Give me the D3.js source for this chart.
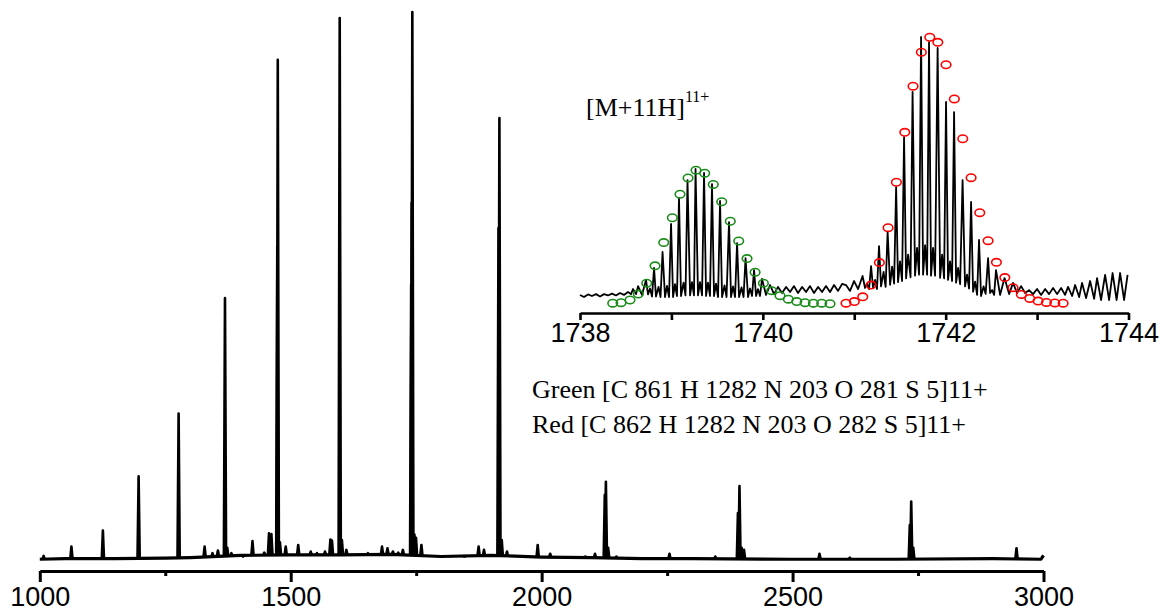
<!DOCTYPE html>
<html lang="en">
<head>
<meta charset="UTF-8">
<title>ESI spectrum with isotope inset</title>
<script src="https://cdn.jsdelivr.net/npm/d3@7"></script>
<style>
  * { margin: 0; padding: 0; }
  body { background: #fff; }
  svg { display: block; }
  .axis text { font-family: Arial, "Liberation Sans", sans-serif; fill: #000; }
  .serif { font-family: "Liberation Serif", "Times New Roman", serif; fill: #000; }
</style>
</head>
<body>
<svg id="chart" width="1168" height="612"></svg>
<script>
// ---- main spectrum (m/z, relative intensity %) ----
const peakMz = [1007.6, 1063.0, 1125.7, 1196.9, 1276.6, 1328.4, 1344.1, 1354.9, 1369.0, 1373.5, 1381.8, 1404.9,
  1423.8, 1447.3, 1456.7, 1461.5, 1473.2, 1474.2, 1478.5, 1490.0, 1514.9, 1539.8, 1552.3, 1568.3, 1579.1, 1582.2,
  1597.6, 1602.0, 1610.9, 1653.8, 1681.9, 1692.8, 1703.6, 1714.2, 1723.5, 1740.0, 1741.0, 1742.3, 1746.5, 1749.6,
  1760.4, 1845.9, 1874.4, 1885.1, 1914.0, 1915.8, 1920.5, 1930.9, 1992.1, 2017.0, 2087.2, 2106.3, 2125.8, 2128.0,
  2132.5, 2148.9, 2254.7, 2301.6, 2346.0, 2391.1, 2394.2, 2398.5, 2403.2, 2553.6, 2614.0, 2733.6, 2736.4, 2740.5, 2946.2];
const peakInt = [1.1, 2.8, 5.7, 15.6, 27.0, 2.8, 1.6, 2.1, 48.0, 2.6, 1.6, 1.0,
  3.8, 1.7, 5.2, 5.1, 57.3, 91.3, 3.6, 2.8, 3.1, 1.9, 1.6, 1.9, 4.1, 3.9,
  98.9, 4.0, 2.2, 1.6, 2.8, 2.5, 1.9, 1.7, 2.2, 50.4, 65.3, 100, 5.0, 4.4,
  3.1, 1.0, 2.8, 2.2, 60.7, 80.7, 4.0, 1.9, 3.1, 1.5, 1.0, 1.5, 12.2, 14.6,
  2.6, 1.0, 1.5, 0.6, 1.0, 8.9, 13.8, 2.6, 2.2, 1.5, 0.8, 6.7, 11.0, 2.6, 2.5];
const baseMz = [1000, 1050, 1150, 1250, 1300, 1400, 1500, 1600, 1700, 1800, 1900, 2000, 2100, 2200, 2300, 2500, 2700, 2900, 2995, 3000];
const baseInt = [0.5, 0.6, 0.6, 0.7, 0.8, 1.2, 1.3, 1.3, 1.4, 1.0, 1.2, 0.9, 0.8, 0.6, 0.6, 0.5, 0.5, 0.6, 0.5, 1.2];
const mainTicks = [1000, 1500, 2000, 2500, 3000];
const mainMinorTicks = [1250, 1750, 2250, 2750];

// ---- inset: measured trace of [M+11H]11+ ----
const insetMz = [1738.000, 1738.044, 1738.088, 1738.131, 1738.175, 1738.219, 1738.263, 1738.306, 1738.350, 1738.394,
  1738.438, 1738.481, 1738.525, 1738.558, 1738.580, 1738.613, 1738.635, 1738.678, 1738.722, 1738.744,
  1738.766, 1738.788, 1738.810, 1738.831, 1738.859, 1738.881, 1738.903, 1738.930, 1738.952, 1738.974,
  1738.996, 1739.018, 1739.039, 1739.061, 1739.083, 1739.105, 1739.133, 1739.154, 1739.176, 1739.204,
  1739.225, 1739.247, 1739.264, 1739.291, 1739.313, 1739.335, 1739.357, 1739.379, 1739.400, 1739.422,
  1739.444, 1739.466, 1739.488, 1739.510, 1739.532, 1739.554, 1739.581, 1739.603, 1739.630, 1739.652,
  1739.674, 1739.696, 1739.718, 1739.740, 1739.767, 1739.789, 1739.811, 1739.838, 1739.860, 1739.882,
  1739.904, 1739.926, 1739.947, 1739.969, 1739.991, 1740.035, 1740.079, 1740.123, 1740.166, 1740.210,
  1740.254, 1740.298, 1740.341, 1740.385, 1740.429, 1740.473, 1740.516, 1740.560, 1740.604, 1740.648,
  1740.691, 1740.735, 1740.779, 1740.823, 1740.867, 1740.910, 1740.954, 1740.998, 1741.042, 1741.091,
  1741.118, 1741.140, 1741.162, 1741.184, 1741.206, 1741.228, 1741.249, 1741.271, 1741.293, 1741.321,
  1741.343, 1741.365, 1741.392, 1741.414, 1741.436, 1741.458, 1741.479, 1741.501, 1741.523, 1741.545,
  1741.567, 1741.589, 1741.616, 1741.638, 1741.665, 1741.687, 1741.709, 1741.731, 1741.753, 1741.775,
  1741.797, 1741.818, 1741.840, 1741.862, 1741.884, 1741.912, 1741.939, 1741.961, 1741.983, 1742.004,
  1742.026, 1742.048, 1742.070, 1742.092, 1742.114, 1742.136, 1742.158, 1742.185, 1742.212, 1742.234,
  1742.256, 1742.278, 1742.300, 1742.322, 1742.344, 1742.365, 1742.387, 1742.415, 1742.437, 1742.464,
  1742.486, 1742.508, 1742.530, 1742.551, 1742.595, 1742.644, 1742.694, 1742.737, 1742.781, 1742.825,
  1742.869, 1742.912, 1742.956, 1743.000, 1743.044, 1743.088, 1743.131, 1743.175, 1743.219, 1743.263,
  1743.306, 1743.339, 1743.383, 1743.416, 1743.460, 1743.492, 1743.536, 1743.580, 1743.624, 1743.656,
  1743.700, 1743.744, 1743.788, 1743.826, 1743.870, 1743.908, 1743.952, 1743.990];
const insetInt = [3.4, 2.6, 3.6, 3.0, 3.7, 2.8, 3.7, 3.2, 3.9, 3.2,
  4.1, 3.4, 4.5, 3.7, 5.6, 3.7, 6.7, 3.4, 9.0, 3.6,
  5.8, 2.8, 13.5, 2.8, 6.4, 2.6, 19.5, 2.6, 6.8, 2.6,
  30.0, 2.6, 7.4, 3.0, 39.7, 3.0, 8.0, 3.2, 46.4, 3.2,
  8.2, 3.2, 50.6, 3.2, 8.2, 3.2, 49.1, 3.0, 8.0, 3.0,
  44.9, 3.0, 7.6, 2.6, 38.6, 2.6, 7.0, 2.6, 30.7, 2.6,
  6.6, 2.6, 22.8, 2.6, 6.2, 2.6, 17.2, 2.6, 5.8, 3.0,
  12.7, 3.0, 5.6, 3.0, 9.4, 3.4, 7.1, 3.7, 6.4, 4.1,
  6.4, 4.5, 6.7, 4.1, 6.4, 4.5, 6.7, 4.1, 6.4, 4.5,
  6.7, 4.5, 7.1, 4.9, 7.5, 7.1, 4.9, 8.6, 5.6, 10.5,
  6.0, 7.6, 5.6, 14.2, 6.0, 9.0, 5.6, 21.7, 6.6, 12.0,
  6.4, 27.0, 7.2, 14.0, 7.6, 43.8, 8.2, 16.0, 8.6, 62.5,
  9.6, 18.5, 10.0, 79.4, 10.6, 21.0, 11.0, 100, 11.0, 22.0,
  11.0, 98.1, 10.6, 21.0, 10.6, 95.9, 9.8, 18.5, 9.6, 75.7,
  9.0, 16.0, 8.6, 71.9, 8.0, 13.5, 7.4, 46.4, 6.6, 11.0,
  5.8, 38.2, 4.6, 8.4, 3.4, 24.0, 3.0, 6.6, 3.8, 17.2,
  4.1, 5.2, 3.4, 12.7, 3.4, 9.7, 3.7, 7.9, 4.1, 6.7,
  4.1, 5.2, 3.7, 5.6, 3.4, 5.6, 3.7, 6.0, 3.7, 6.0,
  3.4, 6.4, 3.0, 7.1, 2.6, 7.9, 2.2, 8.6, 1.9, 9.7,
  1.5, 10.9, 1.5, 11.6, 1.5, 11.6, 1.5, 10.9];

// theoretical isotope envelopes (open circles)
const greenMz = [1738.358, 1738.449, 1738.547, 1738.638, 1738.730, 1738.821, 1738.916, 1739.010, 1739.094,
  1739.182, 1739.269, 1739.364, 1739.458, 1739.550, 1739.644, 1739.736, 1739.827, 1739.915, 1740.006,
  1740.097, 1740.188, 1740.279, 1740.371, 1740.462, 1740.553, 1740.644, 1740.735];
const greenInt = [0.3, 0.5, 1.5, 3.7, 7.8, 14.3, 23.0, 32.3, 41.1,
  47.2, 50.1, 49.0, 44.8, 38.3, 31.0, 23.6, 17.0, 11.9, 7.8,
  5.0, 3.1, 1.8, 0.9, 0.5, 0.3, 0.3, 0.1];
const redMz = [1740.910, 1741.001, 1741.093, 1741.184, 1741.275, 1741.370, 1741.461, 1741.553, 1741.643,
  1741.734, 1741.826, 1741.914, 1742.004, 1742.095, 1742.187, 1742.278, 1742.373, 1742.464, 1742.555,
  1742.647, 1742.737, 1742.828, 1742.920, 1743.011, 1743.102, 1743.194, 1743.285];
const redInt = [0.3, 0.9, 2.7, 7.1, 15.5, 28.6, 45.6, 64.3, 81.6,
  94.3, 99.9, 98.0, 89.6, 76.8, 61.9, 47.3, 34.2, 23.7, 15.6,
  9.9, 6.1, 3.6, 2.1, 1.1, 0.6, 0.4, 0.3];
const insetTicks = [1738, 1740, 1742, 1744];
const insetMinorTicks = [1739, 1741, 1743];

const ionLabel = '[M+11H]';
const ionCharge = '11+';
const legendLines = ['Green [C 861 H 1282 N 203 O 281 S 5]11+', 'Red [C 862 H 1282 N 203 O 282 S 5]11+'];

const svg = d3.select('#chart');

// ---------- main spectrum ----------
const x = d3.scaleLinear().domain([1000, 3000]).range([39.8, 1043.5]);
const y = d3.scaleLinear().domain([0, 100]).range([562, 12]);
const base = d3.scaleLinear().domain(baseMz).range(baseInt);

svg.append('path')
  .datum(baseMz.map((m, i) => [m, baseInt[i]]))
  .attr('fill', 'none').attr('stroke', '#000').attr('stroke-width', 3.2)
  .attr('stroke-linejoin', 'round')
  .attr('d', d3.line().x(d => x(d[0])).y(d => y(d[1])));

const peakHalf = 2.2; // m/z
svg.append('g').selectAll('path')
  .data(peakMz.map((m, i) => [m, peakInt[i]]))
  .join('path')
  .attr('fill', 'none').attr('stroke', '#000').attr('stroke-width', 2.6)
  .attr('stroke-linejoin', 'round')
  .attr('d', d => d3.line()([
    [x(d[0] - peakHalf), y(base(d[0] - peakHalf))],
    [x(d[0]), y(d[1])],
    [x(d[0] + peakHalf), y(base(d[0] + peakHalf))]
  ]));

const mainAxis = svg.append('g').attr('class', 'axis').attr('transform', 'translate(0,571)');
mainAxis.call(d3.axisBottom(x).tickValues(mainTicks).tickSize(11).tickSizeOuter(0).tickFormat(d3.format('d')));
mainAxis.append('g').call(d3.axisBottom(x).tickValues(mainMinorTicks).tickSize(5).tickSizeOuter(0).tickFormat(''))
  .select('.domain').remove();
mainAxis.selectAll('.domain').attr('stroke-width', 3);
mainAxis.selectAll('.tick line').attr('stroke-width', 3);
mainAxis.selectAll('.tick text').attr('y', 35).attr('dy', 0).style('font-size', '27px');

// ---------- inset ----------
const xi = d3.scaleLinear().domain([1738, 1744]).range([580, 1128.5]);
const yi = d3.scaleLinear().domain([0, 100]).range([304, 37]);

svg.append('path')
  .datum(insetMz.map((m, i) => [m, insetInt[i]]))
  .attr('fill', 'none').attr('stroke', '#000').attr('stroke-width', 1.8)
  .attr('stroke-linejoin', 'round')
  .attr('d', d3.line().x(d => xi(d[0])).y(d => yi(d[1])));

function envelope(mz, vals, color) {
  svg.append('g').selectAll('ellipse')
    .data(mz.map((m, i) => [m, vals[i]]))
    .join('ellipse')
    .attr('cx', d => xi(d[0])).attr('cy', d => yi(d[1]))
    .attr('rx', 4.8).attr('ry', 3.7)
    .attr('fill', 'none').attr('stroke', color).attr('stroke-width', 1.6);
}
envelope(greenMz, greenInt, '#1a8c1a');
envelope(redMz, redInt, '#ff0000');

const insetAxis = svg.append('g').attr('class', 'axis').attr('transform', 'translate(0,313)');
insetAxis.call(d3.axisBottom(xi).tickValues(insetTicks.concat(insetMinorTicks)).tickSize(7).tickSizeOuter(0)
  .tickFormat(d => insetTicks.includes(d) ? d : ''));
insetAxis.selectAll('.domain').attr('stroke-width', 2.6);
insetAxis.selectAll('.tick line').attr('stroke-width', 2.6);
insetAxis.selectAll('.tick text').attr('y', 29).attr('dy', 0).style('font-size', '27px');

// ---------- labels ----------
const ion = svg.append('text').attr('class', 'serif').attr('x', 586).attr('y', 116).style('font-size', '26px');
ion.append('tspan').text(ionLabel);
ion.append('tspan').attr('dy', -14).style('font-size', '16px').text(ionCharge);

svg.append('g').selectAll('text')
  .data(legendLines)
  .join('text')
  .attr('class', 'serif')
  .attr('x', 532).attr('y', (d, i) => 398 + i * 35)
  .style('font-size', '26px')
  .text(d => d);
</script>
</body>
</html>
